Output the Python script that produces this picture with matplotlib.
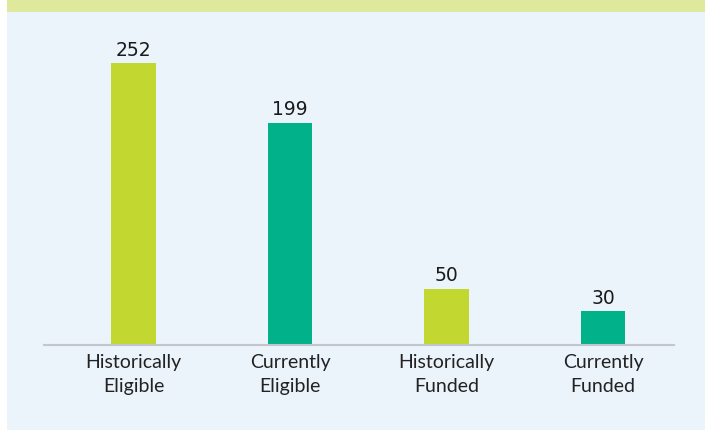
import matplotlib.pyplot as plt
from matplotlib.patches import Rectangle

# categorias e valores
categorias = ['Historically\nEligible', 'Currently\nEligible',
              'Historically\nFunded', 'Currently\nFunded']
valores = [252, 199, 50, 30]
cores = ['#C2D72F', '#00B189', '#C2D72F', '#00B189']

fig = plt.figure(figsize=(7.05, 4.3), dpi=100)
fig.patch.set_facecolor('white')

# fundo azul claro e faixa verde no topo
fig.patches.append(Rectangle((7 / 705, 0), 1, 1 - 12 / 430, transform=fig.transFigure,
                             facecolor='#EBF3FB', edgecolor='none', zorder=-5))
fig.patches.append(Rectangle((7 / 705, 1 - 12 / 430), 1, 12 / 430, transform=fig.transFigure,
                             facecolor='#DFE99B', edgecolor='none', zorder=-5))

ax = fig.add_axes([44 / 705, 1 - 344.5 / 430, 630 / 705, 314.5 / 430])
ax.set_facecolor('none')
ax.set_zorder(2)

x = list(range(len(valores)))
barras = ax.bar(x, valores, width=0.287, color=cores, zorder=2)

for xi, v in zip(x, valores):
    ax.annotate(str(v), (xi, v), xytext=(0, 2.5), textcoords='offset points',
                ha='center', va='bottom', fontsize=13.5, color='#1a1a1a',
                family='DejaVu Sans')

ax.set_xlim(-0.572, 3.454)
ax.set_ylim(0, 282)

ax.set_xticks(x)
ax.set_xticklabels(categorias, fontsize=14, family='Lato',
                   color='#222222', linespacing=1.55)
ax.tick_params(axis='x', length=0, pad=6.5)
ax.set_yticks([])

for lado in ['top', 'right', 'left']:
    ax.spines[lado].set_visible(False)
ax.spines['bottom'].set_color('#C3C7CC')
ax.spines['bottom'].set_linewidth(1.5)

plt.savefig('out.png', dpi=100)
plt.close()
